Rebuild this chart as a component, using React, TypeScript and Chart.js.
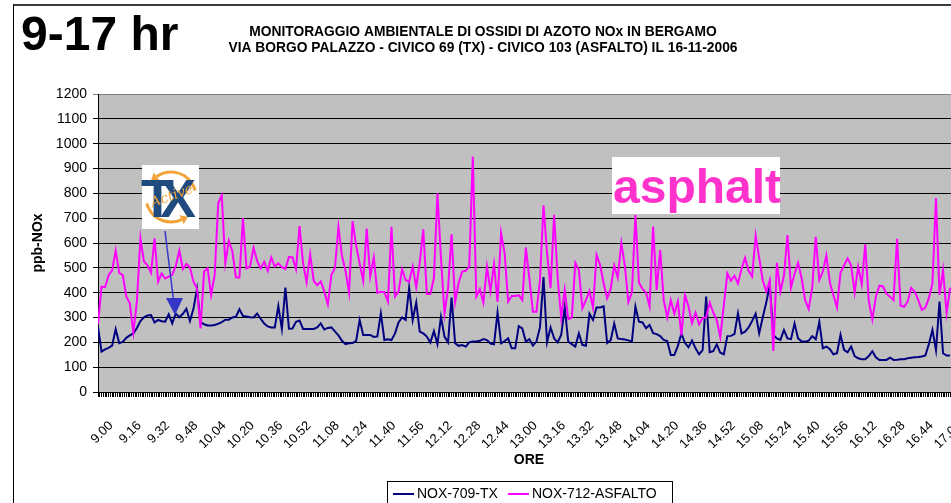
import React, { useEffect, useRef } from 'react';
import { Chart, registerables } from 'chart.js';

Chart.register(...registerables);

// ---------- data ----------
const BIG_TITLE = '9-17 hr';
const TITLE_LINES = [
  'MONITORAGGIO AMBIENTALE DI OSSIDI DI AZOTO NOx IN BERGAMO',
  'VIA BORGO PALAZZO - CIVICO 69 (TX) - CIVICO 103 (ASFALTO) IL 16-11-2006',
];
const X_TITLE = 'ORE';
const Y_TITLE = 'ppb-NOx';
const SERIES_NAMES = ['NOX-709-TX', 'NOX-712-ASFALTO'];
const SERIES_COLORS = ['#000080', '#FF00FF'];
const ANNOTATION_TEXT = 'asphalt';

// tick labels every 16 minutes from 9.00 to 17.00
const TICK_LABELS = [
  '9.00', '9.16', '9.32', '9.48', '10.04', '10.20', '10.36', '10.52', '11.08', '11.24',
  '11.40', '11.56', '12.12', '12.28', '12.44', '13.00', '13.16', '13.32', '13.48', '14.04',
  '14.20', '14.36', '14.52', '15.08', '15.24', '15.40', '15.56', '16.12', '16.28', '16.44', '17.00',
];
const TICK_EVERY_MINUTES = 16;
const SAMPLE_STEP_MINUTES = 2;
const X_MAX_MINUTES = 482.5;
const Y_MIN = 0;
const Y_MAX = 1200;
const Y_STEP = 100;

// NOX-709-TX (ppb), one value every 2 minutes from 9.00
const TX_SERIES = [
  262, 163, 172, 178, 187, 253, 197, 202, 218, 228, 236, 258, 286, 301, 308, 310, 280, 290, 285, 283,
  313, 276, 316, 301, 315, 335, 286, 335, 415, 280, 273, 268, 268, 270, 275, 281, 291, 291, 300, 303,
  333, 306, 304, 301, 300, 316, 295, 276, 264, 260, 260, 346, 254, 420, 255, 256, 283, 288, 254, 254,
  254, 254, 260, 276, 252, 258, 260, 244, 228, 206, 193, 196, 197, 206, 290, 230, 230, 230, 222, 224,
  317, 209, 212, 209, 236, 280, 300, 290, 420, 290, 360, 243, 236, 223, 199, 245, 193, 303, 223, 200,
  380, 196, 186, 189, 183, 200, 203, 203, 206, 213, 209, 195, 192, 320, 196, 205, 216, 176, 176, 265,
  256, 203, 213, 187, 203, 260, 463, 200, 260, 216, 200, 230, 340, 203, 193, 183, 236, 190, 186, 315,
  290, 340, 340, 345, 197, 209, 276, 216, 213, 211, 208, 203, 344, 283, 280, 257, 270, 237, 233, 225,
  210, 205, 149, 149, 186, 236, 198, 180, 207, 176, 152, 169, 384, 160, 164, 192, 158, 152, 225, 226,
  233, 317, 236, 243, 260, 286, 315, 237, 300, 360, 431, 230, 216, 210, 250, 216, 213, 276, 216, 203,
  203, 207, 225, 212, 283, 176, 183, 172, 152, 156, 230, 170, 160, 183, 145, 136, 132, 132, 145, 164,
  140, 129, 129, 129, 138, 129, 130, 132, 132, 136, 138, 140, 141, 143, 147, 193, 250, 169, 364, 156,
  147, 147,
];

// NOX-712-ASFALTO (ppb), one value every 2 minutes from 9.00
const ASPHALT_SERIES = [
  273, 424, 422, 470, 490, 570, 480, 471, 385, 357, 240, 365, 619, 525, 510, 480, 619, 444, 477, 457,
  465, 472, 508, 570, 495, 515, 502, 444, 417, 256, 485, 498, 390, 472, 760, 792, 518, 609, 566, 462,
  461, 700, 498, 505, 581, 528, 498, 524, 488, 542, 505, 518, 503, 495, 544, 542, 495, 668, 518, 442,
  555, 448, 430, 445, 405, 353, 471, 499, 665, 548, 488, 400, 688, 590, 518, 448, 658, 465, 542, 400,
  404, 402, 364, 665, 384, 404, 495, 451, 444, 505, 422, 522, 655, 395, 395, 458, 800, 540, 315, 417,
  635, 362, 440, 485, 488, 505, 948, 384, 414, 360, 505, 407, 515, 363, 640, 558, 364, 387, 387, 390,
  370, 582, 458, 323, 323, 450, 752, 560, 418, 714, 460, 300, 412, 293, 300, 520, 491, 337, 370, 407,
  340, 552, 512, 438, 377, 415, 510, 460, 600, 510, 362, 400, 713, 440, 415, 400, 345, 666, 410, 572,
  370, 300, 370, 315, 365, 228, 390, 345, 278, 320, 273, 297, 300, 360, 320, 290, 220, 350, 478, 448,
  468, 437, 495, 540, 488, 465, 630, 540, 450, 405, 450, 165, 520, 404, 468, 632, 420, 476, 520, 458,
  370, 334, 420, 625, 451, 485, 550, 440, 390, 340, 480, 510, 538, 510, 400, 505, 434, 595, 366, 292,
  384, 428, 425, 396, 384, 370, 617, 347, 343, 364, 420, 404, 370, 330, 340, 379, 437, 780, 391, 491,
  317, 420,
];

const MINUTES = TX_SERIES.map((_, i) => i * SAMPLE_STEP_MINUTES);

// ---------- drawing helpers ----------
const FONT = '"Liberation Sans", Arial, sans-serif';

function arrowHeadOnArc(ctx: CanvasRenderingContext2D, cx: number, cy: number, r: number, theta: number) {
  const px = cx + r * Math.cos(theta);
  const py = cy + r * Math.sin(theta);
  const dx = Math.sin(theta);
  const dy = -Math.cos(theta);
  const nx = Math.cos(theta);
  const ny = Math.sin(theta);
  ctx.beginPath();
  ctx.moveTo(px + dx * 7, py + dy * 7);
  ctx.lineTo(px + nx * 5, py + ny * 5);
  ctx.lineTo(px - nx * 5, py - ny * 5);
  ctx.closePath();
  ctx.fill();
}

const decorations = {
  id: 'decorations',
  beforeDraw(chart: any) {
    const { ctx, chartArea: a, width, height } = chart;
    ctx.save();
    ctx.fillStyle = '#ffffff';
    ctx.fillRect(0, 0, width, height);
    ctx.fillStyle = '#C0C0C0';
    ctx.fillRect(a.left, a.top, a.right - a.left, a.bottom - a.top);
    ctx.restore();
  },
  afterDraw(chart: any) {
    const { ctx, chartArea: a } = chart;
    ctx.save();

    // outer frame
    ctx.strokeStyle = '#3c3c3c';
    ctx.lineWidth = 2;
    ctx.beginPath();
    ctx.moveTo(13, 5);
    ctx.lineTo(951, 5);
    ctx.stroke();
    ctx.strokeStyle = '#000';
    ctx.lineWidth = 1;
    ctx.beginPath();
    ctx.moveTo(13.5, 4);
    ctx.lineTo(13.5, 503);
    ctx.stroke();

    // titles
    ctx.fillStyle = '#000';
    ctx.textBaseline = 'alphabetic';
    ctx.textAlign = 'left';
    ctx.font = `bold 48px ${FONT}`;
    ctx.fillText(BIG_TITLE, 21, 50);

    ctx.textAlign = 'center';
    ctx.font = `bold 13.8px ${FONT}`;
    ctx.fillText(TITLE_LINES[0], 483, 36);
    ctx.fillText(TITLE_LINES[1], 483, 52);

    // axis titles
    ctx.save();
    ctx.translate(38, (a.top + a.bottom) / 2);
    ctx.rotate(-Math.PI / 2);
    ctx.font = `bold 14px ${FONT}`;
    ctx.textBaseline = 'middle';
    ctx.textAlign = 'center';
    ctx.fillText(Y_TITLE, 0, 0);
    ctx.restore();

    ctx.font = `bold 14px ${FONT}`;
    ctx.textBaseline = 'middle';
    ctx.textAlign = 'center';
    ctx.fillText(X_TITLE, 529, 460);

    // legend
    ctx.strokeStyle = '#000';
    ctx.lineWidth = 1;
    ctx.strokeRect(387.5, 481.5, 285, 40);
    ctx.font = `14px ${FONT}`;
    ctx.textAlign = 'left';
    ctx.textBaseline = 'middle';
    let lx = 393;
    const ly = 494;
    SERIES_NAMES.forEach((name, i) => {
      ctx.strokeStyle = SERIES_COLORS[i];
      ctx.lineWidth = 2;
      ctx.beginPath();
      ctx.moveTo(lx, ly);
      ctx.lineTo(lx + 21, ly);
      ctx.stroke();
      ctx.fillStyle = '#000';
      ctx.fillText(name, lx + 24, ly);
      lx += 24 + ctx.measureText(name).width + 10;
    });

    // TX Active logo
    ctx.fillStyle = '#ffffff';
    ctx.fillRect(142, 165, 57, 64);
    const cx = 171, cy = 197, r = 25;
    ctx.strokeStyle = '#F2A43A';
    ctx.fillStyle = '#F2A43A';
    ctx.lineWidth = 3;
    ctx.beginPath();
    ctx.arc(cx, cy, r, (235 * Math.PI) / 180, (345 * Math.PI) / 180);
    ctx.stroke();
    arrowHeadOnArc(ctx, cx, cy, r, (235 * Math.PI) / 180);
    ctx.beginPath();
    ctx.arc(cx, cy, r, (65 * Math.PI) / 180, (165 * Math.PI) / 180);
    ctx.stroke();
    arrowHeadOnArc(ctx, cx, cy, r, (65 * Math.PI) / 180);
    ctx.fillStyle = '#1F4B7F';
    ctx.font = `bold 54px ${FONT}`;
    ctx.textAlign = 'left';
    ctx.textBaseline = 'alphabetic';
    ctx.fillText('T', 141, 217);
    ctx.fillText('X', 160, 217);
    ctx.save();
    ctx.translate(172, 196);
    ctx.rotate(-0.35);
    ctx.font = 'italic 14px "DejaVu Serif", serif';
    ctx.fillStyle = '#F2A43A';
    ctx.textAlign = 'center';
    ctx.fillText('Active', 0, 4);
    ctx.restore();

    // arrow from logo
    ctx.strokeStyle = '#3535C8';
    ctx.fillStyle = '#3535C8';
    ctx.lineWidth = 1.5;
    ctx.beginPath();
    ctx.moveTo(165, 231);
    ctx.lineTo(173.5, 300);
    ctx.stroke();
    ctx.beginPath();
    ctx.moveTo(175, 315);
    ctx.lineTo(166, 298);
    ctx.lineTo(183, 298);
    ctx.closePath();
    ctx.fill();

    // asphalt label
    ctx.fillStyle = '#ffffff';
    ctx.fillRect(612, 157, 168, 57);
    ctx.fillStyle = '#FF33CC';
    ctx.font = `bold 48px ${FONT}`;
    ctx.textAlign = 'left';
    ctx.textBaseline = 'alphabetic';
    ctx.fillText(ANNOTATION_TEXT, 613, 203);

    ctx.restore();
  },
};

export default function App() {
  const ref = useRef<HTMLCanvasElement>(null);

  useEffect(() => {
    if (!ref.current) return;
    Chart.defaults.font.family = FONT;
    const chart = new Chart(ref.current, {
      type: 'line',
      data: {
        datasets: [
          {
            label: SERIES_NAMES[0],
            data: TX_SERIES.map((v, i) => ({ x: MINUTES[i], y: v })),
            borderColor: SERIES_COLORS[0],
            borderWidth: 2,
            pointRadius: 0,
            fill: false,
            tension: 0,
            order: 1,
          },
          {
            label: SERIES_NAMES[1],
            data: ASPHALT_SERIES.map((v, i) => ({ x: MINUTES[i], y: v })),
            borderColor: SERIES_COLORS[1],
            borderWidth: 2,
            pointRadius: 0,
            fill: false,
            tension: 0,
            order: 0,
          },
        ],
      },
      options: {
        responsive: false,
        animation: false,
        events: [],
        layout: { padding: { top: 94, left: 0, right: 0, bottom: 0 } },
        plugins: {
          legend: { display: false },
          tooltip: { enabled: false },
          title: { display: false },
        },
        scales: {
          x: {
            type: 'linear',
            min: 0,
            max: X_MAX_MINUTES,
            border: { display: true, color: '#000', width: 1 },
            grid: { drawOnChartArea: false, drawTicks: true, tickLength: 5, color: '#000', lineWidth: 1 },
            ticks: {
              stepSize: 1,
              autoSkip: false,
              includeBounds: false,
              minRotation: 45,
              maxRotation: 45,
              padding: 21,
              labelOffset: 13,
              color: '#000',
              font: { size: 13 },
              callback: (value: any) => {
                const v = Number(value);
                if (v % TICK_EVERY_MINUTES !== 0) return '';
                return TICK_LABELS[v / TICK_EVERY_MINUTES] ?? '';
              },
            },
            afterFit: (scale: any) => {
              scale.height = 111;
              scale.paddingLeft = 0;
              scale.paddingRight = 0;
            },
          },
          y: {
            min: Y_MIN,
            max: Y_MAX,
            border: { display: true, color: '#000', width: 1 },
            grid: {
              color: (c: any) => (c.tick && c.tick.value === Y_MAX ? '#808080' : '#000'),
              lineWidth: 1,
              tickLength: 5,
            },
            ticks: {
              stepSize: Y_STEP,
              padding: 6,
              color: '#000',
              font: { size: 14 },
              callback: (value: any) => String(value),
            },
            afterFit: (scale: any) => {
              scale.width = 98;
            },
          },
        },
      } as any,
      plugins: [decorations],
    });
    return () => chart.destroy();
  }, []);

  return (
    <div style={{ position: 'absolute', left: 0, top: 0, width: 951, height: 503, overflow: 'hidden', background: '#fff' }}>
      <canvas ref={ref} width={951} height={503} style={{ display: 'block', width: 951, height: 503 }} />
    </div>
  );
}
